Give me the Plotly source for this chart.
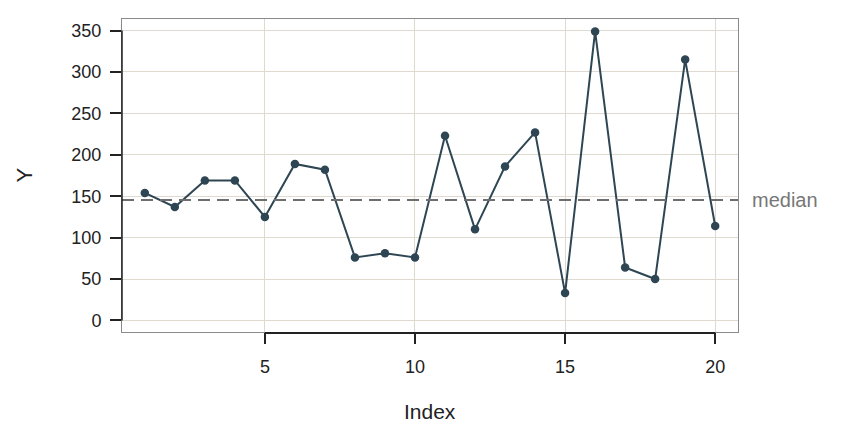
import plotly.graph_objects as go
import numpy as np

# Data
index = list(range(1, 21))
values = [154, 137, 169, 169, 125, 189, 182, 76, 81, 76,
          223, 110, 186, 227, 33, 349, 64, 50, 315, 114]
x_ticks = [5, 10, 15, 20]
y_ticks = [0, 50, 100, 150, 200, 250, 300, 350]
median_label = "median"
x_title = "Index"
y_title = "Y"

median_val = float(np.median(values))

LINE_COL = "#2e4653"
GRID_COL = "#dedad0"
FRAME_COL = "#8a8a8a"
AXIS_COL = "#222222"
FONT = "Liberation Sans, Arial, sans-serif"

fig = go.Figure()

fig.add_trace(go.Scatter(
    x=index, y=values, mode="lines+markers",
    line=dict(color=LINE_COL, width=2),
    marker=dict(color=LINE_COL, size=8.5),
    showlegend=False, hoverinfo="x+y",
))

# median reference line
fig.add_shape(type="line", xref="paper", yref="y",
              x0=0, x1=1, y0=median_val, y1=median_val,
              line=dict(color="#6e6e6e", width=2, dash="12px,7px"))
fig.add_annotation(xref="paper", yref="y", x=1, xshift=12, y=median_val,
                   text=median_label, showarrow=False, xanchor="left",
                   font=dict(family=FONT, size=20, color="#777777"))

# R-style axis lines spanning the tick range
fig.add_shape(type="line", xref="x", yref="paper",
              x0=min(x_ticks), x1=max(x_ticks), y0=-0.003, y1=-0.003,
              line=dict(color=AXIS_COL, width=2))
fig.add_shape(type="line", xref="paper", yref="y",
              x0=0, x1=0, y0=min(y_ticks), y1=max(y_ticks),
              line=dict(color=AXIS_COL, width=1.5))

# axis titles
fig.add_annotation(xref="paper", yref="paper", x=0.5, y=0, yshift=-79,
                   text=x_title, showarrow=False, yanchor="middle",
                   font=dict(family=FONT, size=21, color=AXIS_COL))
fig.add_annotation(xref="paper", yref="paper", x=0, xshift=-98, y=0.5,
                   text=y_title, showarrow=False, textangle=-90,
                   xanchor="center", yanchor="middle", borderpad=0,
                   font=dict(family=FONT, size=22, color=AXIS_COL))

# the page body adds an 8px offset; margins compensate for it
fig.update_layout(
    width=864, height=432,
    margin=dict(l=114, r=134, t=11, b=108, autoexpand=False),
    paper_bgcolor="white", plot_bgcolor="white",
    font=dict(family=FONT, color=AXIS_COL),
    xaxis=dict(
        range=[0.24, 20.76], tickvals=x_ticks, ticktext=[str(t) for t in x_ticks],
        showgrid=True, gridcolor=GRID_COL, gridwidth=1, automargin=False,
        zeroline=False, showline=True, linecolor=FRAME_COL, linewidth=1, mirror=True,
        ticks="outside", ticklen=11, tickwidth=2, tickcolor=AXIS_COL,
        tickfont=dict(size=18, color=AXIS_COL), ticklabelstandoff=7,
    ),
    yaxis=dict(
        range=[-14, 364], tickvals=y_ticks, ticktext=[str(t) for t in y_ticks],
        showgrid=True, gridcolor=GRID_COL, gridwidth=1, automargin=False,
        zeroline=False, showline=True, linecolor=FRAME_COL, linewidth=1, mirror=True,
        ticks="outside", ticklen=11, tickwidth=2, tickcolor=AXIS_COL,
        tickfont=dict(size=18, color=AXIS_COL), ticklabelstandoff=5,
    ),
)

fig.write_html("out.html")
